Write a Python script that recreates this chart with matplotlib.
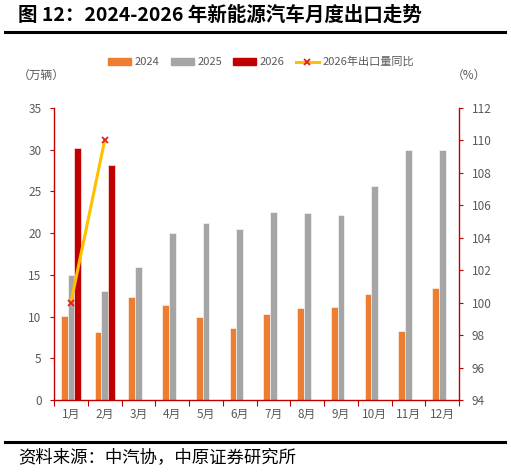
import matplotlib
matplotlib.use("Agg")
import matplotlib.pyplot as plt
import numpy as np
from matplotlib.lines import Line2D
from matplotlib.patches import Patch

plt.rcParams['font.family'] = ['Noto Sans CJK SC', 'DejaVu Sans']

months = ['1月', '2月', '3月', '4月', '5月', '6月', '7月', '8月', '9月', '10月', '11月', '12月']
v2024 = [10.1, 8.2, 12.4, 11.4, 9.9, 8.6, 10.3, 11.0, 11.1, 12.75, 8.3, 13.4]
v2025 = [15.0, 13.1, 15.9, 20.0, 21.2, 20.5, 22.5, 22.4, 22.2, 25.6, 30.0, 30.0]
v2026 = [30.2, 28.2]
yoy2026 = [100.0, 110.0]
left_ticks = [0, 5, 10, 15, 20, 25, 30, 35]
right_ticks = [94, 96, 98, 100, 102, 104, 106, 108, 110, 112]

C24 = '#ED7D31'
C25 = '#A5A5A5'
C26 = '#C00000'
CLINE = '#FFC000'
AX = '#C00000'
TXT = '#595959'

fig = plt.figure(figsize=(5.11, 4.72), dpi=100)
ax = fig.add_axes([54/511, 1-400/472, (459-54)/511, (400-108)/472])

x = np.arange(len(months))
w = 0.2
ax.bar(x - w, v2024, w, color=C24, edgecolor='white', linewidth=0.4, zorder=2)
ax.bar(x, v2025, w, color=C25, edgecolor='white', linewidth=0.4, zorder=2)
ax.bar(x[:len(v2026)] + w, v2026, w, color=C26, edgecolor='white', linewidth=0.4, zorder=2)

ax.set_xlim(-0.5, 11.5)
ax.set_ylim(0, 35)
ax.set_yticks(left_ticks)
ax.set_xticks(np.arange(-0.5, 12, 1))
ax.set_xticklabels([])
ax.set_xticks(x, minor=True)
ax.set_xticklabels(months, minor=True)
ax.tick_params(axis='x', which='major', length=4, color=AX, direction='out')
ax.tick_params(axis='x', which='minor', length=0, pad=6, labelsize=8.5, labelcolor=TXT)
ax.tick_params(axis='y', length=3, color=AX, labelsize=8.5, labelcolor=TXT, pad=6)

for s in ['top', 'right']:
    ax.spines[s].set_visible(False)
for s in ['left', 'bottom']:
    ax.spines[s].set_color(AX)
    ax.spines[s].set_linewidth(1.0)

ax2 = ax.twinx()
ax2.set_ylim(94, 112)
ax2.set_yticks(right_ticks)
ax2.plot(x[:len(yoy2026)], yoy2026, color=CLINE, linewidth=2.2, zorder=5,
         marker='x', markersize=5, markeredgecolor='#E02020', markeredgewidth=1.3)
for s in ['top', 'left', 'bottom']:
    ax2.spines[s].set_visible(False)
ax2.spines['right'].set_color(AX)
ax2.spines['right'].set_linewidth(1.0)
ax2.tick_params(axis='y', length=3, color=AX, labelsize=8.5, labelcolor=TXT, pad=6)

# legend
handles = [Patch(color=C24), Patch(color=C25), Patch(color=C26),
           Line2D([0], [0], color=CLINE, linewidth=2.2, marker='x', markersize=5,
                  markeredgecolor='#E02020', markeredgewidth=1.3)]
labels = ['2024', '2025', '2026', '2026年出口量同比']
fig.legend(handles, labels, loc='center', bbox_to_anchor=(261/511, 1-62/472), ncol=4,
           frameon=False, fontsize=8, labelcolor=TXT, handlelength=2.1, handleheight=0.55,
           columnspacing=1.0, handletextpad=0.3)

fig.text(18/511, 1-75/472, '（万辆）', fontsize=8.5, color=TXT, va='center', ha='left')
fig.text(486/511, 1-75/472, '（%）', fontsize=8.5, color=TXT, va='center', ha='right')

fig.text(18/511, 1-15/472, '图 12：2024-2026 年新能源汽车月度出口走势', fontsize=14,
         fontweight='bold', color='black', va='center', ha='left')
fig.add_artist(Line2D([5/511, 505/511], [1-31.5/472, 1-31.5/472], color='black', linewidth=2.2))
fig.add_artist(Line2D([5/511, 505/511], [1-441.5/472, 1-441.5/472], color='black', linewidth=2.2))
fig.text(18/511, 1-457/472, '资料来源：中汽协，中原证券研究所', fontsize=12.5, color='black',
         va='center', ha='left')

fig.savefig('out.png', dpi=100)
